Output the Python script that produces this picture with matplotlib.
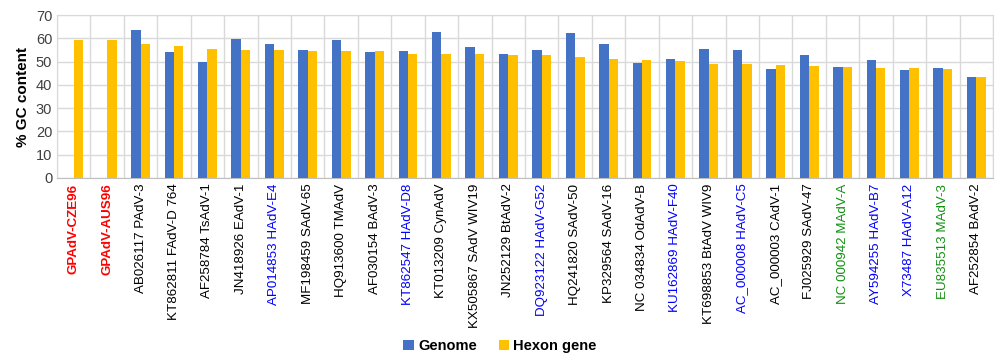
import matplotlib
matplotlib.use('Agg')
import matplotlib.pyplot as plt
import numpy as np

plt.rcParams['font.family'] = ['Liberation Sans', 'DejaVu Sans']

# sequences and GC content
labels = [
    'GPAdV-CZE96', 'GPAdV-AUS96', 'AB026117 PAdV-3', 'KT862811 FAdV-D 764',
    'AF258784 TsAdV-1', 'JN418926 EAdV-1', 'AP014853 HAdV-E4', 'MF198459 SAdV-65',
    'HQ913600 TMAdV', 'AF030154 BAdV-3', 'KT862547 HAdV-D8', 'KT013209 CynAdV',
    'KX505867 SAdV WIV19', 'JN252129 BtAdV-2', 'DQ923122 HAdV-G52', 'HQ241820 SAdV-50',
    'KP329564 SAdV-16', 'NC 034834 OdAdV-B', 'KU162869 HAdV-F40', 'KT698853 BtAdV WIV9',
    'AC_000008 HAdV-C5', 'AC_000003 CAdV-1', 'FJ025929 SAdV-47', 'NC 000942 MAdV-A',
    'AY594255 HAdV-B7', 'X73487 HAdV-A12', 'EU835513 MAdV-3', 'AF252854 BAdV-2',
]
genome = [0, 0, 63.8, 54.2, 49.9, 59.8, 57.7, 55.1, 59.5, 54.0, 54.4, 62.8, 56.1, 53.5,
          55.1, 62.5, 57.8, 49.5, 51.1, 55.4, 55.1, 46.9, 52.7, 47.7, 50.8, 46.4, 47.1, 43.5]
hexon = [59.3, 59.3, 57.8, 56.7, 55.5, 55.1, 55.0, 54.7, 54.7, 54.4, 53.5, 53.2, 53.1, 52.9,
         52.8, 51.8, 51.2, 50.8, 50.4, 49.2, 48.8, 48.4, 48.1, 47.5, 47.2, 47.1, 46.9, 43.2]
label_colors = (['red'] * 2 + ['black'] * 4 + ['blue', 'black', 'black', 'black', 'blue']
                + ['black'] * 3 + ['blue', 'black', 'black', 'black', 'blue', 'black', 'blue',
                   'black', 'black', '#109010', 'blue', 'blue', '#109010', 'black'])

x = np.arange(len(labels))
w = 0.28

fig = plt.figure(figsize=(10, 3.61), dpi=100)
ax = fig.add_axes([0.057, 0.507, 0.936, 0.451])

ax.bar(x - w / 2, genome, w, color='#4472C4', label='Genome', zorder=3)
ax.bar(x + w / 2, hexon, w, color='#FFC000', label='Hexon gene', zorder=3)

ax.set_xlim(-0.5, len(labels) - 0.5)
ax.set_ylim(0, 70)
ax.set_yticks(range(0, 71, 10))
ax.set_xticks(x)
ax.set_xticklabels(labels, rotation=90, fontsize=9.6)
for t, c in zip(ax.get_xticklabels(), label_colors):
    t.set_color(c)
    if c == 'red':
        t.set_fontweight('bold')
ax.tick_params(axis='both', length=0)
ax.tick_params(axis='y', labelsize=10.5, colors='#404040')
ax.tick_params(axis='x', pad=4)

# grid between categories
ax.set_xticks(np.arange(-0.5, len(labels), 1), minor=True)
ax.grid(True, which='minor', axis='x', color='#D9D9D9', linewidth=1, zorder=0)
ax.grid(True, which='major', axis='y', color='#D9D9D9', linewidth=1, zorder=0)
ax.tick_params(axis='x', which='minor', length=0)
for s in ax.spines.values():
    s.set_color('#D9D9D9')
ax.spines['bottom'].set_color('#BFBFBF')

ax.set_ylabel('% GC content', fontsize=11, fontweight='bold')

fig.legend(loc='center', bbox_to_anchor=(0.5, 0.042), ncol=2, frameon=False,
           prop={'size': 10.5, 'weight': 'bold'}, handlelength=0.7, handleheight=0.7,
           handletextpad=0.3, columnspacing=1.5)

plt.savefig('out.png', dpi=100)
